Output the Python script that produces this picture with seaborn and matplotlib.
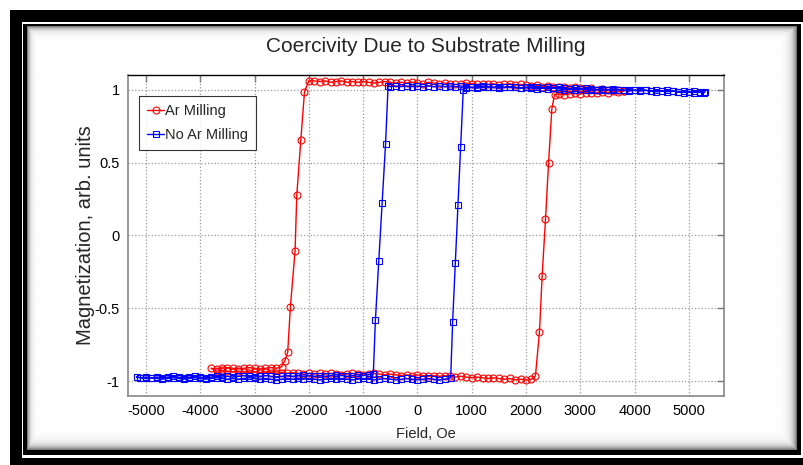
import numpy as np
import matplotlib
matplotlib.use('Agg')
import matplotlib.pyplot as plt
import matplotlib.patches as patches
import seaborn as sns

# Ar milled sample: field sweep down from +3800 Oe, then back up
ar_field = [
    3800, 3700, 3600, 3500, 3400, 3300, 3200, 3100, 3000, 2900,
    2800, 2700, 2600, 2500, 2400, 2300, 2200, 2100, 2000, 1900,
    1800, 1700, 1600, 1500, 1400, 1300, 1200, 1100, 1000, 900,
    800, 700, 600, 500, 400, 300, 200, 100, 0, -100,
    -200, -300, -400, -500, -600, -700, -800, -900, -1000, -1100,
    -1200, -1300, -1400, -1500, -1600, -1700, -1800, -1900, -2000,
    -2080, -2148, -2222, -2253, -2340, -2389, -2444,
    -2500, -2600, -2700, -2800, -2900, -3000, -3100, -3200, -3300, -3400,
    -3500, -3600, -3700, -3800,
    -3700, -3600, -3500, -3400, -3300, -3200, -3100, -3000, -2900, -2800,
    -2700, -2600, -2500, -2400, -2300, -2200, -2100, -2000, -1900, -1800,
    -1700, -1600, -1500, -1400, -1300, -1200, -1100, -1000, -900, -800,
    -700, -600, -500, -400, -300, -200, -100, 0, 100, 200,
    300, 400, 500, 600, 700, 800, 900, 1000, 1100, 1200,
    1300, 1400, 1500, 1600, 1700, 1800, 1900, 2000, 2100,
    2173, 2247, 2296, 2358, 2414, 2475, 2525,
    2600, 2700, 2800, 2900, 3000, 3100, 3200, 3300, 3400, 3500,
    3600, 3700, 3800,
]
ar_moment = [
    0.99, 1.0, 0.995, 1.0, 1.005, 1.0, 1.01, 1.005, 1.01, 1.015,
    1.01, 1.02, 1.015, 1.02, 1.025, 1.02, 1.03, 1.025, 1.03, 1.035,
    1.03, 1.04, 1.035, 1.03, 1.04, 1.035, 1.04, 1.035, 1.04, 1.045,
    1.04, 1.035, 1.04, 1.045, 1.04, 1.045, 1.05, 1.04, 1.045, 1.05,
    1.045, 1.05, 1.045, 1.05, 1.055, 1.05, 1.045, 1.05, 1.055, 1.05,
    1.055, 1.05, 1.06, 1.055, 1.05, 1.06, 1.055, 1.06, 1.06,
    0.984, 0.653, 0.276, -0.103, -0.49, -0.80, -0.86,
    -0.90, -0.91, -0.905, -0.91, -0.915, -0.91, -0.905, -0.91, -0.915, -0.91,
    -0.905, -0.91, -0.915, -0.91,
    -0.93, -0.925, -0.93, -0.935, -0.93, -0.935, -0.94, -0.935, -0.94, -0.935,
    -0.94, -0.945, -0.94, -0.945, -0.94, -0.945, -0.95, -0.945, -0.95, -0.945,
    -0.95, -0.945, -0.95, -0.955, -0.95, -0.945, -0.95, -0.955, -0.95, -0.945,
    -0.95, -0.955, -0.95, -0.955, -0.96, -0.955, -0.96, -0.955, -0.96, -0.965,
    -0.96, -0.965, -0.96, -0.965, -0.97, -0.965, -0.97, -0.975, -0.97, -0.975,
    -0.98, -0.975, -0.98, -0.985, -0.98, -0.99, -0.985, -0.99, -0.985,
    -0.963, -0.66, -0.279, 0.110, 0.495, 0.868, 0.966,
    0.97, 0.965, 0.97, 0.975, 0.97, 0.98, 0.975, 0.98, 0.985, 0.98,
    0.99, 0.985, 0.99,
]

# sample without Ar milling: sweep down from +5300 Oe, then back up
no_ar_field = [
    5300, 5200, 5100, 5000, 4900, 4800, 4700, 4600, 4500, 4400,
    4300, 4200, 4100, 4000, 3900, 3800, 3700, 3600, 3500, 3400,
    3300, 3200, 3100, 3000, 2900, 2800, 2700, 2600, 2500, 2400,
    2300, 2200, 2100, 2000, 1900, 1800, 1700, 1600, 1500, 1400,
    1300, 1200, 1100, 1000, 900, 800, 700, 600, 500, 400,
    300, 200, 100, 0, -100, -200, -300, -400, -500,
    -541, -587, -651, -713, -774, -813,
    -900, -1000, -1100, -1200, -1300, -1400, -1500, -1600, -1700, -1800,
    -1900, -2000, -2100, -2200, -2300, -2400, -2500, -2600, -2700, -2800,
    -2900, -3000, -3100, -3200, -3300, -3400, -3500, -3600, -3700, -3800,
    -3900, -4000, -4100, -4200, -4300, -4400, -4500, -4600, -4700, -4800,
    -4900, -5000, -5100, -5170,
    -5100, -5000, -4900, -4800, -4700, -4600, -4500, -4400, -4300, -4200,
    -4100, -4000, -3900, -3800, -3700, -3600, -3500, -3400, -3300, -3200,
    -3100, -3000, -2900, -2800, -2700, -2600, -2500, -2400, -2300, -2200,
    -2100, -2000, -1900, -1800, -1700, -1600, -1500, -1400, -1300, -1200,
    -1100, -1000, -900, -800, -700, -600, -500, -400, -300, -200,
    -100, 0, 100, 200, 300, 400, 500,
    612, 648, 697, 746, 795, 844,
    900, 1000, 1100, 1200, 1300, 1400, 1500, 1600, 1700, 1800,
    1900, 2000, 2100, 2200, 2300, 2400, 2500, 2600, 2700, 2800,
    2900, 3000, 3100, 3200, 3300, 3400, 3500, 3600, 3700, 3800,
    3900, 4000, 4100, 4200, 4300, 4400, 4500, 4600, 4700, 4800,
    4900, 5000, 5100, 5200, 5280,
]
no_ar_moment = [
    0.985, 0.98, 0.99, 0.985, 0.99, 0.985, 0.99, 0.995, 0.99, 0.995,
    0.99, 0.995, 1.0, 0.995, 1.0, 0.995, 1.0, 1.005, 1.0, 1.005,
    1.0, 1.005, 1.01, 1.005, 1.01, 1.005, 1.01, 1.015, 1.01, 1.015,
    1.01, 1.015, 1.02, 1.015, 1.01, 1.015, 1.02, 1.015, 1.02, 1.015,
    1.02, 1.025, 1.02, 1.015, 1.02, 1.025, 1.02, 1.025, 1.02, 1.025,
    1.02, 1.025, 1.02, 1.025, 1.02, 1.025, 1.02, 1.025, 1.02,
    1.025, 0.628, 0.224, -0.178, -0.58, -0.95,
    -0.955, -0.96, -0.955, -0.96, -0.965, -0.96, -0.955, -0.96, -0.965, -0.96,
    -0.965, -0.96, -0.955, -0.96, -0.965, -0.96, -0.965, -0.97, -0.965, -0.96,
    -0.965, -0.97, -0.965, -0.96, -0.965, -0.97, -0.965, -0.97, -0.965, -0.97,
    -0.975, -0.97, -0.965, -0.97, -0.975, -0.97, -0.965, -0.97, -0.975, -0.97,
    -0.975, -0.97, -0.975, -0.97,
    -0.975, -0.98, -0.975, -0.98, -0.985, -0.98, -0.975, -0.98, -0.985, -0.98,
    -0.975, -0.98, -0.985, -0.98, -0.975, -0.98, -0.985, -0.98, -0.985, -0.98,
    -0.975, -0.98, -0.985, -0.98, -0.985, -0.99, -0.985, -0.98, -0.985, -0.98,
    -0.985, -0.98, -0.985, -0.99, -0.985, -0.98, -0.985, -0.98, -0.985, -0.99,
    -0.985, -0.98, -0.985, -0.99, -0.985, -0.98, -0.985, -0.99, -0.985, -0.98,
    -0.985, -0.99, -0.985, -0.98, -0.985, -0.99, -0.985,
    -0.975, -0.59, -0.187, 0.208, 0.605, 1.0,
    1.01, 1.015, 1.01, 1.015, 1.02, 1.015, 1.01, 1.015, 1.02, 1.015,
    1.01, 1.015, 1.01, 1.005, 1.01, 1.005, 1.01, 1.005, 1.0, 1.005,
    1.0, 1.005, 1.0, 0.995, 1.0, 0.995, 1.0, 0.995, 1.0, 0.995,
    0.99, 0.995, 0.99, 0.995, 0.99, 0.985, 0.99, 0.985, 0.99, 0.985,
    0.98, 0.985, 0.98, 0.985, 0.98,
]

x_ticks = [-5000, -4000, -3000, -2000, -1000, 0, 1000, 2000, 3000, 4000, 5000]
y_ticks = [-1, -0.5, 0, 0.5, 1]
y_tick_labels = ['-1', '-0.5', '0', '0.5', '1']

sns.set_theme(style='white')
plt.rcParams['font.family'] = ['Liberation Sans', 'DejaVu Sans']
plt.rcParams['axes.unicode_minus'] = False

W, H = 804, 465
fig = plt.figure(figsize=(W / 100, H / 100), dpi=100)
fig.patch.set_facecolor('white')

# picture frame drawn in pixel coordinates
bg = fig.add_axes([0, 0, 1, 1])
bg.set_xlim(0, W)
bg.set_ylim(H, 0)
bg.axis('off')
bg.add_patch(patches.Rectangle((10, 10), 800, 460, facecolor='black', edgecolor='none', zorder=1))
bg.add_patch(patches.Rectangle((22, 22), 790, 436, facecolor='white', edgecolor='none', zorder=1.1))
bg.add_patch(patches.Rectangle((23.3, 24), 777.7, 431, facecolor='black', edgecolor='none', zorder=1.2))
# inner panel with soft shadow along its edges
gx = np.arange(27, 797) + 0.5
gy = np.arange(27, 450) + 0.5
X, Y = np.meshgrid(gx, gy)
shade = np.maximum.reduce([
    np.exp(-(X - 27) / 2.5),
    np.exp(-(Y - 27) / 3.0),
    np.exp(-(797 - X) / 4.0),
    np.exp(-(450 - Y) / 4.0),
])
bg.imshow(1 - 0.6 * shade, cmap='gray', vmin=0, vmax=1, zorder=2,
          extent=(27, 797, 450, 27), aspect='auto', interpolation='bilinear')
bg.set_xlim(0, W)
bg.set_ylim(H, 0)

# main axes
ax = fig.add_axes([128 / W, 1 - 396 / H, 596 / W, 321 / H])
ax.set_facecolor('white')

sns.lineplot(x=ar_field, y=ar_moment, sort=False, estimator=None, ax=ax,
             color='red', linewidth=1.0, marker='o', markersize=5,
             markerfacecolor='none', markeredgecolor='red', markeredgewidth=0.8,
             label='Ar Milling')
sns.lineplot(x=no_ar_field, y=no_ar_moment, sort=False, estimator=None, ax=ax,
             color='blue', linewidth=1.0, marker='s', markersize=4.5,
             markerfacecolor='none', markeredgecolor='blue', markeredgewidth=0.8,
             label='No Ar Milling')

ax.set_xlim(-5330, 5645)
ax.set_ylim(-1.1, 1.1)
ax.set_xticks(x_ticks)
ax.set_xticklabels([str(t) for t in x_ticks])
ax.set_yticks(y_ticks)
ax.set_yticklabels(y_tick_labels)
ax.tick_params(axis='both', direction='in', length=5, width=1, color='#777777',
               labelsize=10.5, labelcolor='black', top=True, right=True, pad=6)
ax.grid(True, linestyle=':', linewidth=0.9, color='#999999')

for side in ['left', 'right', 'bottom']:
    ax.spines[side].set_color('#888888')
    ax.spines[side].set_linewidth(1.2)
ax.spines['top'].set_color('black')
ax.spines['top'].set_linewidth(1.0)

ax.set_xlabel('Field, Oe', fontsize=10.5)
ax.xaxis.set_label_coords(0.5, -0.098)
ax.set_ylabel('Magnetization, arb. units', fontsize=14.5)
ax.yaxis.set_label_coords(-0.056, 0.5)
ax.text(0.5, 1 + 28.5 / 321, 'Coercivity Due to Substrate Milling', transform=ax.transAxes,
        ha='center', va='center', fontsize=15)

leg = ax.legend(loc='upper left', bbox_to_anchor=(0.0185, 0.935), borderaxespad=0,
                fontsize=10.5, frameon=True, fancybox=False, handlelength=1.15,
                handletextpad=0.05, borderpad=0.56, labelspacing=0.68)
leg.get_frame().set_edgecolor('black')
leg.get_frame().set_linewidth(0.8)

fig.savefig('out.png', dpi=100)
